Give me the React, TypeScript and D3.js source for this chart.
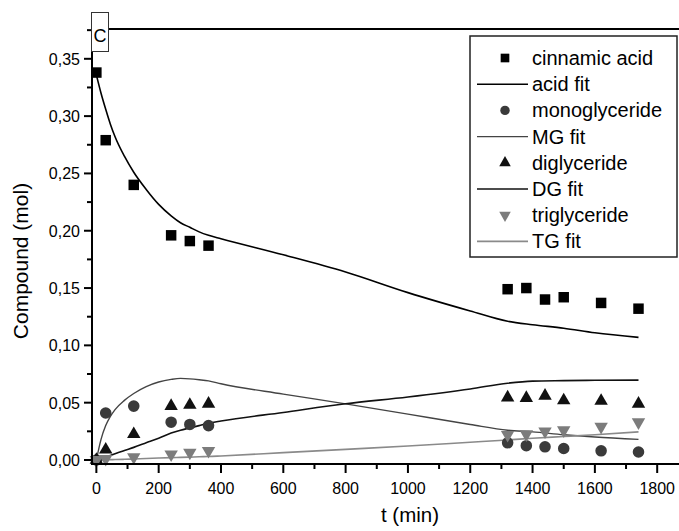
import React from "react";
import * as d3 from "d3";

// measured sample times (min)
const times = [0, 30, 120, 240, 300, 360, 1320, 1380, 1440, 1500, 1620, 1740];
const acid = [0.338, 0.279, 0.24, 0.196, 0.191, 0.187, 0.149, 0.15, 0.14, 0.142, 0.137, 0.132];
const mono = [0, 0.041, 0.047, 0.033, 0.031, 0.03, 0.015, 0.0125, 0.0115, 0.01, 0.008, 0.007];
const di = [0, 0.009, 0.0225, 0.047, 0.048, 0.049, 0.0545, 0.054, 0.056, 0.052, 0.0515, 0.049];
const tri = [0, 0.001, 0.0025, 0.005, 0.0065, 0.008, 0.022, 0.0225, 0.025, 0.026, 0.029, 0.033];

// model curves
const fitTimes = [0, 15, 30, 45, 60, 90, 120, 160, 200, 240, 270, 300, 330, 360, 400, 600, 800, 1000, 1200, 1320, 1400, 1500, 1600, 1740];
const acidFit = [0.336, 0.32, 0.306, 0.293, 0.282, 0.265, 0.251, 0.236, 0.223, 0.213, 0.207, 0.203, 0.199, 0.196, 0.193, 0.179, 0.164, 0.146, 0.13, 0.121, 0.118, 0.115, 0.111, 0.107];
const mgFit = [0, 0.018, 0.03, 0.038, 0.044, 0.052, 0.058, 0.064, 0.068, 0.0703, 0.0712, 0.0708, 0.07, 0.069, 0.0665, 0.0575, 0.049, 0.04, 0.031, 0.026, 0.0245, 0.022, 0.02, 0.018];
const dgFit = [0, 0.0013, 0.0027, 0.004, 0.0055, 0.0083, 0.011, 0.015, 0.019, 0.0235, 0.026, 0.028, 0.030, 0.032, 0.034, 0.0415, 0.049, 0.055, 0.062, 0.067, 0.0688, 0.0692, 0.0695, 0.0697];
const tgFit = [0, 0.0001, 0.0002, 0.0003, 0.0004, 0.0006, 0.0009, 0.0013, 0.0017, 0.0021, 0.0023, 0.0025, 0.0028, 0.003, 0.0035, 0.0064, 0.0093, 0.0122, 0.0155, 0.0175, 0.019, 0.0205, 0.022, 0.0245];

const xTicks = [0, 200, 400, 600, 800, 1000, 1200, 1400, 1600, 1800];
const yTicks = [0, 0.05, 0.1, 0.15, 0.2, 0.25, 0.3, 0.35];
const legendLabels = ["cinnamic acid", "acid fit", "monoglyceride", "MG fit", "diglyceride", "DG fit", "triglyceride", "TG fit"];

const W = 679;
const H = 531;
const font = "'Liberation Sans', Arial, sans-serif";

export default function App() {
  const x = d3.scaleLinear().domain([-14, 1870]).range([92, 679]);
  const y = d3.scaleLinear().domain([-0.0035, 0.376]).range([464, 29]);
  const fmt = (v: number) => d3.format(".2f")(v).replace(".", ",");

  const line = (vals: number[]) =>
    d3
      .line<number>()
      .x((_, i) => x(fitTimes[i]))
      .y((d) => y(d))
      .curve(d3.curveMonotoneX)(vals) as string;

  const sq = d3.symbol(d3.symbolSquare, 110)() as string;
  const circ = d3.symbol(d3.symbolCircle, 105)() as string;
  const triP = d3.symbol(d3.symbolTriangle, 78)() as string;
  const sqL = d3.symbol(d3.symbolSquare, 75)() as string;
  const circL = d3.symbol(d3.symbolCircle, 70)() as string;
  const triL = d3.symbol(d3.symbolTriangle, 58)() as string;

  const xMinor = d3.range(100, 1900, 200);
  const yMinor = d3.range(0.025, 0.38, 0.05);

  const series = [
    { vals: mono, path: circ, fill: "#3a3a3a", rot: 0 },
    { vals: di, path: triP, fill: "#111", rot: 0 },
    { vals: tri, path: triP, fill: "#7c7c7c", rot: 180 },
    { vals: acid, path: sq, fill: "#000", rot: 0 },
  ];

  const fits = [
    { vals: acidFit, stroke: "#000", w: 1.6 },
    { vals: mgFit, stroke: "#444", w: 1.4 },
    { vals: dgFit, stroke: "#111", w: 1.6 },
    { vals: tgFit, stroke: "#8a8a8a", w: 1.6 },
  ];

  const legX = 470;
  const legY = 36;
  const rowH = 26.2;
  const legendItems = [
    { kind: "m", path: sqL, fill: "#000", rot: 0 },
    { kind: "l", stroke: "#000", w: 1.6 },
    { kind: "m", path: circL, fill: "#3a3a3a", rot: 0 },
    { kind: "l", stroke: "#444", w: 1.4 },
    { kind: "m", path: triL, fill: "#111", rot: 0 },
    { kind: "l", stroke: "#111", w: 1.6 },
    { kind: "m", path: triL, fill: "#7c7c7c", rot: 180 },
    { kind: "l", stroke: "#8a8a8a", w: 1.6 },
  ];

  return (
    <svg width={W} height={H} style={{ position: "absolute", left: 0, top: 0, background: "#fff" }} fontFamily={font}>
      <rect width={W} height={H} fill="#fff" />

      {/* fits */}
      {fits.map((f, i) => (
        <path key={i} d={line(f.vals)} fill="none" stroke={f.stroke} strokeWidth={f.w} />
      ))}

      {/* points */}
      {series.map((s, si) =>
        s.vals.map((v, i) => (
          <path
            key={si + "-" + i}
            d={s.path}
            fill={s.fill}
            transform={`translate(${x(times[i])},${y(v)}) rotate(${s.rot})`}
          />
        ))
      )}

      {/* axes */}
      <line x1={92} x2={92} y1={29} y2={465} stroke="#000" strokeWidth={2} />
      <line x1={91} x2={W} y1={464} y2={464} stroke="#000" strokeWidth={2} />
      <line x1={92} x2={W} y1={29} y2={29} stroke="#000" strokeWidth={2} />

      {yTicks.map((t) => (
        <g key={t}>
          <line x1={84} x2={92} y1={y(t)} y2={y(t)} stroke="#000" strokeWidth={2} />
          <text x={80} y={y(t) + 6} textAnchor="end" fontSize={16}>
            {fmt(t)}
          </text>
        </g>
      ))}
      {yMinor.map((t) => (
        <line key={t} x1={87} x2={92} y1={y(t)} y2={y(t)} stroke="#000" strokeWidth={2} />
      ))}

      {xTicks.map((t) => (
        <g key={t}>
          <line x1={x(t)} x2={x(t)} y1={464} y2={473} stroke="#000" strokeWidth={2} />
          <text x={x(t)} y={494} textAnchor="middle" fontSize={16}>
            {t}
          </text>
        </g>
      ))}
      {xMinor.map((t) => (
        <line key={t} x1={x(t)} x2={x(t)} y1={464} y2={469} stroke="#000" strokeWidth={2} />
      ))}

      <text x={410} y={522} textAnchor="middle" fontSize={20.5}>
        t (min)
      </text>
      <text transform="translate(28,261) rotate(-90)" textAnchor="middle" fontSize={21}>
        Compound (mol)
      </text>

      {/* panel label */}
      <rect x={91.5} y={12.5} width={17} height={39} fill="#fff" stroke="#333" strokeWidth={1} />
      <text x={100} y={42} textAnchor="middle" fontSize={18}>
        C
      </text>

      {/* legend */}
      <rect x={legX} y={legY} width={207} height={221} fill="#fff" stroke="#222" strokeWidth={1.5} />
      {legendItems.map((it, i) => {
        const cy = legY + 22 + i * rowH;
        return (
          <g key={i}>
            {it.kind === "m" ? (
              <path d={it.path} fill={it.fill} transform={`translate(505,${cy}) rotate(${it.rot})`} />
            ) : (
              <line x1={477} x2={528} y1={cy} y2={cy} stroke={it.stroke} strokeWidth={it.w} />
            )}
            <text x={532} y={cy + 7} fontSize={20}>
              {legendLabels[i]}
            </text>
          </g>
        );
      })}
    </svg>
  );
}
